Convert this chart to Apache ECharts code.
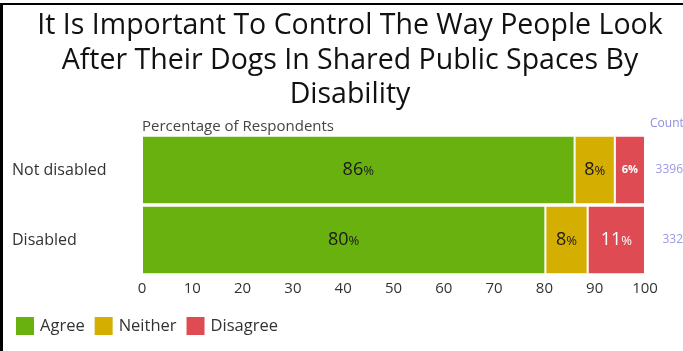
<!DOCTYPE html>
<html>
<head>
<meta charset="utf-8">
<script src="https://cdn.jsdelivr.net/npm/echarts@6/dist/echarts.min.js"></script>
<style>
html,body{margin:0;padding:0;background:#fff;}
#chart{width:683px;height:351px;}
</style>
</head>
<body>
<div id="chart"></div>
<script>
const categories = ['Not disabled', 'Disabled'];
const agree = [86, 80.2];
const neither = [8, 8.4];
const disagree = [6, 11.4];
const counts = ['3396', '332'];
const xTicks = [0, 10, 20, 30, 40, 50, 60, 70, 80, 90, 100];

const FONT = '"Open Sans", "Noto Sans", sans-serif';

function labelFormatter(p) {
  const v = Math.round(p.value);
  if (p.value < 7) return '{s|' + v + '%}';
  return '{n|' + v + '}{p|%}';
}

function makeLabel(color) {
  return {
    show: true,
    position: 'inside',
    formatter: labelFormatter,
    rich: {
      n: { fontSize: 18, color: color, fontFamily: FONT },
      p: { fontSize: 13, color: color, fontFamily: FONT, padding: [3, 0, 0, 0] },
      s: { fontSize: 11, color: color, fontFamily: FONT, fontWeight: 'bold' }
    }
  };
}

const chart = echarts.init(document.getElementById('chart'));
chart.setOption({
  animation: false,
  backgroundColor: '#fff',
  title: {
    text: 'It Is Important To Control The Way People Look\nAfter Their Dogs In Shared Public Spaces By\nDisability',
    left: 345,
    textAlign: 'center',
    top: 4,
    textStyle: { fontFamily: FONT, fontSize: 28.5, fontWeight: 'normal', color: '#111', lineHeight: 34.5 }
  },
  legend: {
    left: 14,
    top: 315,
    padding: 0,
    itemWidth: 20,
    itemHeight: 20,
    itemGap: 8,
    icon: 'rect',
    textStyle: { fontFamily: FONT, fontSize: 16.5, color: '#333' },
    data: ['Agree', 'Neither', 'Disagree']
  },
  grid: { left: 142, right: 38, top: 135, bottom: 76, containLabel: false, outerBoundsMode: 'none' },
  xAxis: [{
    type: 'value', min: 0, max: 100, interval: 10,
    name: 'Percentage of Respondents',
    nameLocation: 'start',
    position: 'top',
    nameGap: 0,
    nameTextStyle: { fontFamily: FONT, fontSize: 15, color: '#444', align: 'left', verticalAlign: 'bottom', padding: [0, 0, 1, 0] },
    axisLine: { show: false }, axisTick: { show: false }, splitLine: { show: false },
    axisLabel: { show: false }
  }, {
    type: 'value', min: 0, max: 100, interval: 10, position: 'bottom',
    axisLine: { show: false }, axisTick: { show: false }, splitLine: { show: false },
    axisLabel: { fontFamily: FONT, fontSize: 15, color: '#333', margin: 6,
      formatter: function (v) { return xTicks.indexOf(v) >= 0 ? String(v) : ''; } }
  }],
  yAxis: [{
    type: 'category', data: categories, inverse: true,
    axisLine: { show: false }, axisTick: { show: false },
    axisLabel: { fontFamily: FONT, fontSize: 16, color: '#333', margin: 130, align: 'left' }
  }, {
    type: 'category', data: counts, inverse: true, position: 'right',
    axisLine: { show: false }, axisTick: { show: false },
    axisLabel: { fontFamily: FONT, fontSize: 12, color: '#9a9ae6', margin: 38, align: 'right' }
  }],
  graphic: [
    { type: 'rect', shape: { x: 0, y: 3, width: 683, height: 2 }, style: { fill: '#000' }, z: 100 },
    { type: 'rect', shape: { x: 0, y: 3, width: 3, height: 348 }, style: { fill: '#000' }, z: 100 },
    { type: 'text', left: 650, top: 118, style: { text: 'Count', fontFamily: FONT, fontSize: 12, fill: '#8e8ee0' } }
  ],
  series: [
    { name: 'Agree', type: 'bar', stack: 't', data: agree, barCategoryGap: '2%',
      itemStyle: { color: '#69b10f', borderColor: '#fff', borderWidth: 1 }, label: makeLabel('#1a1a1a') },
    { name: 'Neither', type: 'bar', stack: 't', data: neither,
      itemStyle: { color: '#d5ae02', borderColor: '#fff', borderWidth: 1 }, label: makeLabel('#1a1a1a') },
    { name: 'Disagree', type: 'bar', stack: 't', data: disagree,
      itemStyle: { color: '#de4b52', borderColor: '#fff', borderWidth: 1 }, label: makeLabel('#ffffff') }
  ]
});
</script>
</body>
</html>
